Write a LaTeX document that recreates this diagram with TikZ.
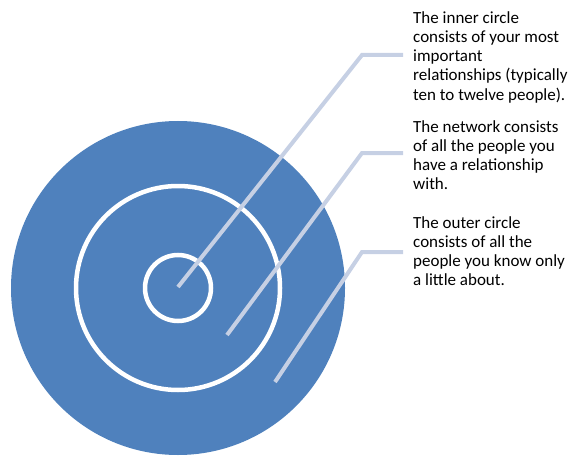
\documentclass[tikz,border=0pt]{standalone}
\usepackage{fontspec}
\setmainfont{Carlito}
\usepackage{tikz}
\usepackage{xcolor}

\definecolor{ringblue}{HTML}{4F81BD}
\definecolor{leadgray}{HTML}{C6D0E4}

\tikzset{
  note/.style={anchor=north west,inner sep=0pt,align=left,
    font=\fontsize{17}{19.3}\selectfont},
  leader/.style={draw=leadgray,line width=4pt},
  ring/.style={draw=white,line width=4.5pt}
}

\begin{document}
\begin{tikzpicture}[x=1pt,y=-1pt]
\useasboundingbox (0,0) rectangle (569,457);
% target circles
\coordinate (c) at (178,288);
\fill[ringblue] (c) circle (167);
\draw[ring] (c) circle (102);
\draw[ring] (c) circle (33);
% texts
\node[note] (innertxt) at (413,11) {The inner circle\\consists of your most\\important\\relationships (typically\\ten to twelve people).};
\node[note] (nettxt) at (413,120) {The network consists\\of all the people you\\have a relationship\\with.};
\node[note] (outertxt) at (413,216) {The outer circle\\consists of all the\\people you know only\\a little about.};
% leaders
\coordinate (innertip) at (178,287);
\coordinate (nettip) at (227,335);
\coordinate (outertip) at (275,382);
\coordinate (innerbend) at (362,55);
\coordinate (netbend) at (362,153);
\coordinate (outerbend) at (362,252);
\draw[leader] (innertip) -- (innerbend) -- ([xshift=-10pt]innerbend -| innertxt.west);
\draw[leader] (nettip) -- (netbend) -- ([xshift=-10pt]netbend -| nettxt.west);
\draw[leader] (outertip) -- (outerbend) -- ([xshift=-10pt]outerbend -| outertxt.west);
\end{tikzpicture}
\end{document}
